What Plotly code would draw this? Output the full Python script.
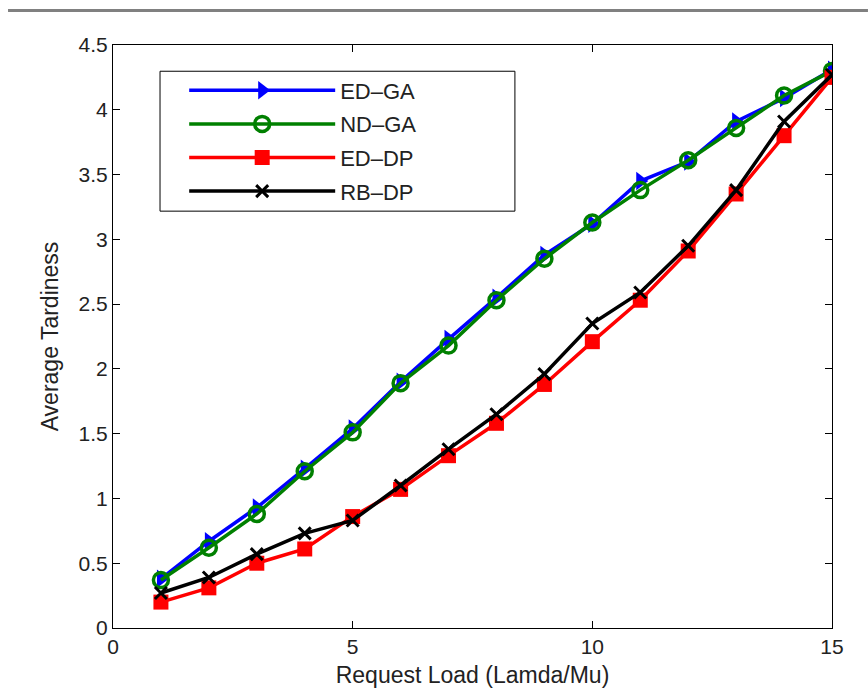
import plotly.graph_objects as go

x = list(range(1, 16))
ed_ga = [0.38, 0.67, 0.93, 1.23, 1.54, 1.90, 2.23, 2.55, 2.88, 3.12, 3.45, 3.60, 3.91, 4.09, 4.31]
nd_ga = [0.37, 0.62, 0.88, 1.21, 1.51, 1.89, 2.18, 2.53, 2.85, 3.13, 3.38, 3.61, 3.86, 4.11, 4.30]
ed_dp = [0.20, 0.31, 0.50, 0.61, 0.86, 1.07, 1.33, 1.58, 1.88, 2.21, 2.53, 2.91, 3.35, 3.80, 4.25]
rb_dp = [0.27, 0.39, 0.57, 0.73, 0.83, 1.10, 1.38, 1.65, 1.96, 2.35, 2.59, 2.95, 3.38, 3.91, 4.27]

x_ticks = [0, 5, 10, 15]
y_ticks = [0, 0.5, 1, 1.5, 2, 2.5, 3, 3.5, 4, 4.5]
y_tick_labels = ["0", "0.5", "1", "1.5", "2", "2.5", "3", "3.5", "4", "4.5"]

fig = go.Figure()
fig.add_trace(go.Scatter(x=x, y=ed_ga, name="ED\u2013GA", mode="lines+markers", legendgroup="a",
                         line=dict(color="#0000ff", width=3.5),
                         marker=dict(symbol="triangle-right", size=16, color="#0000ff")))
fig.add_trace(go.Scatter(x=x, y=nd_ga, name="ND\u2013GA", mode="lines+markers", legendgroup="b",
                         line=dict(color="#008000", width=3.5),
                         marker=dict(symbol="circle-open", size=15, color="#008000",
                                     line=dict(width=3.5, color="#008000"))))
fig.add_trace(go.Scatter(x=x, y=ed_dp, name="ED\u2013DP", mode="lines+markers", legendgroup="c",
                         line=dict(color="#ff0000", width=3.5),
                         marker=dict(symbol="square", size=15, color="#ff0000",
                                     line=dict(width=0))))
fig.add_trace(go.Scatter(x=x, y=rb_dp, name="RB\u2013DP", mode="lines+markers", legendgroup="d",
                         line=dict(color="#000000", width=3.5),
                         marker=dict(symbol="x-thin-open", size=12, color="#000000",
                                     line=dict(width=3, color="#000000"))))

axis_common = dict(showgrid=False, zeroline=False, showline=True, linecolor="black",
                   linewidth=1, mirror="ticks", ticks="inside", ticklen=7,
                   tickcolor="black", tickfont=dict(size=21, color="#222"))

fig.update_xaxes(range=[0, 15], tickvals=x_ticks,
                 title=dict(text="Request Load (Lamda/Mu)", font=dict(size=23, color="#222"), standoff=9),
                 **axis_common)
fig.update_yaxes(range=[0, 4.5], tickvals=y_ticks, ticktext=y_tick_labels,
                 title=dict(text="Average Tardiness", font=dict(size=23, color="#222"), standoff=13),
                 **axis_common)

# frame line at top of the page
fig.add_shape(type="line", xref="paper", yref="paper", x0=-0.146, x1=1.05, y0=1.059, y1=1.059,
              line=dict(color="#808080", width=3))
# legend border box
fig.add_shape(type="rect", xref="paper", yref="paper", x0=0.0654, x1=0.559, y0=0.715, y1=0.955,
              line=dict(color="black", width=1), fillcolor="white", layer="below")

fig.update_layout(
    width=868, height=696,
    margin=dict(l=113, r=36, t=45, b=68),
    paper_bgcolor="white", plot_bgcolor="white",
    font=dict(family="Liberation Sans, Arial, sans-serif", color="#222"),
    legend=dict(x=0.099, y=0.958, xanchor="left", yanchor="top",
                borderwidth=0, bgcolor="rgba(0,0,0,0)",
                font=dict(size=22, color="#222"), itemwidth=146,
                tracegroupgap=2),
)

fig.write_html("out.html")
